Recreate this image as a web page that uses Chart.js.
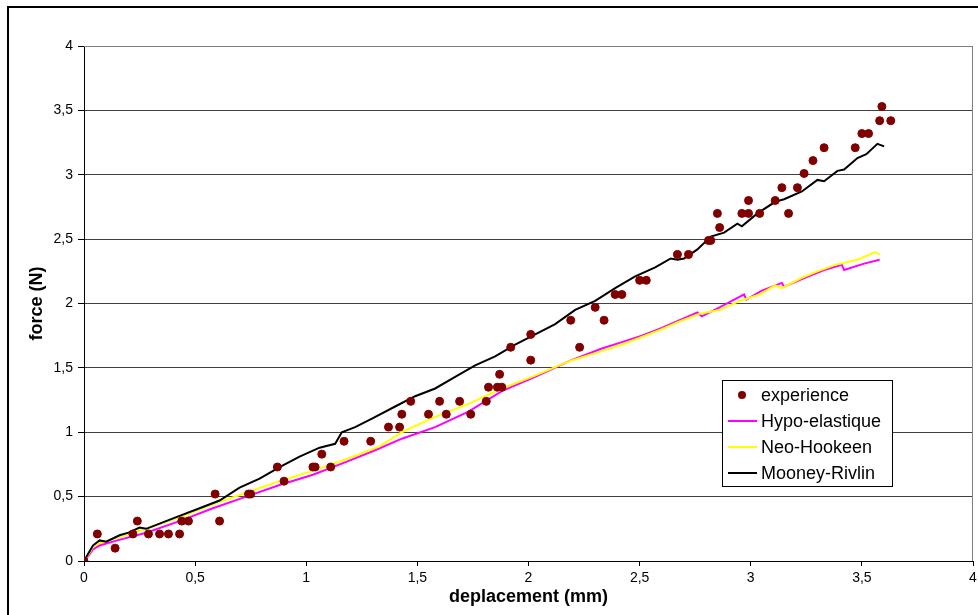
<!DOCTYPE html>
<html lang="fr">
  <head>
    <meta charset="UTF-8" />
    <title>force / deplacement</title>
    <script src="https://cdn.jsdelivr.net/npm/chart.js"></script>
    <style>
      * {
        margin: 0;
        padding: 0;
        box-sizing: border-box;
      }
      body {
        background: #ffffff;
        font-family: "Liberation Sans", Arial, sans-serif;
      }
      #wrap {
        width: 978px;
        height: 615px;
      }
    </style>
  </head>
  <body>
    <div id="wrap">
      <canvas id="forceChart" width="978" height="615"></canvas>
    </div>

    <script>
      // points de mesure (experience)
      var expX = [0, 0.06, 0.14, 0.22, 0.24, 0.29, 0.34, 0.38, 0.43, 0.44, 0.47, 0.59, 0.61, 0.74, 0.75, 0.87, 0.9, 1.03, 1.04, 1.07, 1.11, 1.17, 1.29, 1.37, 1.42, 1.43, 1.47, 1.55, 1.6, 1.63, 1.69, 1.74, 1.81, 1.82, 1.86, 1.87, 1.88, 1.92, 2.01, 2.01, 2.19, 2.23, 2.3, 2.34, 2.39, 2.42, 2.5, 2.53, 2.67, 2.72, 2.81, 2.82, 2.85, 2.86, 2.96, 2.99, 2.99, 3.04, 3.11, 3.14, 3.17, 3.21, 3.24, 3.28, 3.33, 3.47, 3.5, 3.53, 3.58, 3.59, 3.63];
      var expY = [0, 0.21, 0.1, 0.21, 0.31, 0.21, 0.21, 0.21, 0.21, 0.31, 0.31, 0.52, 0.31, 0.52, 0.52, 0.73, 0.62, 0.73, 0.73, 0.83, 0.73, 0.93, 0.93, 1.04, 1.04, 1.14, 1.24, 1.14, 1.24, 1.14, 1.24, 1.14, 1.24, 1.35, 1.35, 1.45, 1.35, 1.66, 1.76, 1.56, 1.87, 1.66, 1.97, 1.87, 2.07, 2.07, 2.18, 2.18, 2.38, 2.38, 2.49, 2.49, 2.7, 2.59, 2.7, 2.7, 2.8, 2.7, 2.8, 2.9, 2.7, 2.9, 3.01, 3.11, 3.21, 3.21, 3.32, 3.32, 3.42, 3.53, 3.42];

      // modele Hypo-elastique
      var hypoX = [0, 0.02, 0.04, 0.07, 0.15, 0.28, 0.43, 0.58, 0.73, 0.88, 1.03, 1.18, 1.31, 1.43, 1.58, 1.73, 1.88, 2.03, 2.18, 2.33, 2.42, 2.51, 2.6, 2.68, 2.76, 2.78, 2.86, 2.97, 2.98, 3.05, 3.14, 3.15, 3.23, 3.33, 3.41, 3.42, 3.51, 3.58];
      var hypoY = [0, 0.04, 0.09, 0.12, 0.16, 0.22, 0.31, 0.41, 0.5, 0.59, 0.67, 0.77, 0.86, 0.95, 1.04, 1.16, 1.32, 1.43, 1.55, 1.65, 1.7, 1.75, 1.81, 1.87, 1.93, 1.9, 1.97, 2.07, 2.03, 2.1, 2.16, 2.13, 2.19, 2.26, 2.3, 2.26, 2.31, 2.34];

      // modele Neo-Hookeen
      var neoX = [0, 0.02, 0.04, 0.07, 0.15, 0.28, 0.43, 0.58, 0.73, 0.88, 1.03, 1.18, 1.33, 1.43, 1.58, 1.73, 1.88, 2.03, 2.18, 2.33, 2.42, 2.51, 2.6, 2.68, 2.77, 2.86, 2.95, 3.04, 3.11, 3.14, 3.23, 3.3, 3.38, 3.48, 3.56, 3.58];
      var neoY = [0, 0.05, 0.11, 0.14, 0.18, 0.25, 0.34, 0.44, 0.53, 0.62, 0.7, 0.79, 0.89, 1.0, 1.12, 1.22, 1.34, 1.44, 1.55, 1.63, 1.68, 1.74, 1.8, 1.86, 1.92, 1.95, 2.02, 2.07, 2.14, 2.12, 2.2, 2.25, 2.3, 2.34, 2.4, 2.38];

      // modele Mooney-Rivlin
      var mooneyX = [0, 0.02, 0.04, 0.07, 0.1, 0.16, 0.2, 0.25, 0.28, 0.34, 0.43, 0.52, 0.61, 0.7, 0.79, 0.88, 0.97, 1.06, 1.13, 1.16, 1.22, 1.3, 1.4, 1.49, 1.58, 1.67, 1.76, 1.85, 1.94, 2.03, 2.12, 2.21, 2.3, 2.39, 2.48, 2.57, 2.64, 2.67, 2.7, 2.76, 2.82, 2.88, 2.94, 2.96, 3.03, 3.11, 3.15, 3.23, 3.3, 3.33, 3.39, 3.42, 3.48, 3.52, 3.57, 3.6];
      var mooneyY = [0, 0.06, 0.12, 0.16, 0.15, 0.2, 0.22, 0.26, 0.25, 0.29, 0.35, 0.41, 0.47, 0.57, 0.64, 0.73, 0.81, 0.88, 0.91, 1.0, 1.04, 1.11, 1.2, 1.28, 1.34, 1.43, 1.52, 1.59, 1.68, 1.76, 1.84, 1.95, 2.02, 2.12, 2.21, 2.28, 2.35, 2.34, 2.35, 2.42, 2.52, 2.55, 2.62, 2.6, 2.7, 2.79, 2.81, 2.87, 2.96, 2.95, 3.03, 3.04, 3.13, 3.16, 3.24, 3.22];

      var seriesNames = ["experience", "Hypo-elastique", "Neo-Hookeen", "Mooney-Rivlin"];
      var tickLabels = ["0", "0,5", "1", "1,5", "2", "2,5", "3", "3,5", "4"];

      function toPoints(xs, ys) {
        return xs.map(function (x, i) {
          return { x: x, y: ys[i] };
        });
      }

      var FONT = "'Liberation Sans', Arial, sans-serif";

      // cadre exterieur + bord gris de la zone de trace
      var framePlugin = {
        id: "frame",
        beforeDraw: function (chart) {
          var ctx = chart.ctx;
          ctx.save();
          ctx.fillStyle = "#ffffff";
          ctx.fillRect(0, 0, chart.width, chart.height);
          ctx.strokeStyle = "#000000";
          ctx.lineWidth = 2;
          ctx.strokeRect(8, 7, 990, 640);
          ctx.restore();
        },
        beforeDatasetsDraw: function (chart) {
          var a = chart.chartArea;
          var ctx = chart.ctx;
          ctx.save();
          ctx.strokeStyle = "#808080";
          ctx.lineWidth = 1;
          ctx.beginPath();
          ctx.moveTo(a.left, a.top + 0.5);
          ctx.lineTo(a.right - 0.5, a.top + 0.5);
          ctx.lineTo(a.right - 0.5, a.bottom);
          ctx.stroke();
          ctx.restore();
        },
      };

      // legende dans la zone de trace
      var legendBoxPlugin = {
        id: "legendBox",
        afterDraw: function (chart) {
          var ctx = chart.ctx;
          var x0 = 722.5, y0 = 380.5, w = 170, h = 106;
          ctx.save();
          ctx.fillStyle = "#ffffff";
          ctx.fillRect(x0, y0, w, h);
          ctx.strokeStyle = "#000000";
          ctx.lineWidth = 1;
          ctx.strokeRect(x0, y0, w, h);
          ctx.font = "18px " + FONT;
          ctx.textBaseline = "middle";
          ctx.fillStyle = "#000000";
          var rows = [395, 421, 447, 473];
          chart.data.datasets.forEach(function (ds, i) {
            var y = rows[i];
            if (ds.showLine === false) {
              ctx.beginPath();
              ctx.fillStyle = ds.pointBackgroundColor;
              ctx.arc(742, y, 4, 0, Math.PI * 2);
              ctx.fill();
            } else {
              ctx.beginPath();
              ctx.strokeStyle = ds.borderColor;
              ctx.lineWidth = 2;
              ctx.moveTo(728, y);
              ctx.lineTo(757, y);
              ctx.stroke();
            }
            ctx.fillStyle = "#000000";
            ctx.fillText(ds.label, 761, y + 1);
          });
          ctx.restore();
        },
      };

      var ctx = document.getElementById("forceChart").getContext("2d");
      new Chart(ctx, {
        type: "scatter",
        data: {
          datasets: [
            {
              label: seriesNames[0],
              data: toPoints(expX, expY),
              showLine: false,
              pointRadius: 4,
              pointBackgroundColor: "#800000",
              pointBorderColor: "#800000",
              borderColor: "#800000",
              order: 0,
            },
            {
              label: seriesNames[1],
              data: toPoints(hypoX, hypoY),
              showLine: true,
              borderColor: "#ff00ff",
              borderWidth: 2,
              pointRadius: 0,
              tension: 0,
              order: 3,
            },
            {
              label: seriesNames[2],
              data: toPoints(neoX, neoY),
              showLine: true,
              borderColor: "#ffff00",
              borderWidth: 2,
              pointRadius: 0,
              tension: 0,
              order: 2,
            },
            {
              label: seriesNames[3],
              data: toPoints(mooneyX, mooneyY),
              showLine: true,
              borderColor: "#000000",
              borderWidth: 2,
              pointRadius: 0,
              tension: 0,
              order: 1,
            },
          ],
        },
        options: {
          responsive: false,
          animation: false,
          layout: {
            padding: { top: 46, right: 5, left: 0, bottom: 0 },
          },
          plugins: {
            legend: { display: false },
            tooltip: { enabled: false },
          },
          scales: {
            x: {
              type: "linear",
              min: 0,
              max: 4,
              afterFit: function (scale) {
                scale.height = 54;
                scale.paddingLeft = 0;
                scale.paddingRight = 0;
              },
              ticks: {
                stepSize: 0.5,
                padding: 4,
                color: "#000000",
                font: { family: FONT, size: 14 },
                callback: function (value) {
                  return tickLabels[Math.round(value * 2)];
                },
              },
              grid: {
                drawOnChartArea: false,
                drawTicks: true,
                tickLength: 5,
                color: "#000000",
              },
              border: { color: "#000000", width: 1 },
              title: {
                display: true,
                text: "deplacement (mm)",
                color: "#000000",
                font: { family: FONT, size: 18, weight: "bold" },
                padding: { top: 0, bottom: 7 },
              },
            },
            y: {
              min: 0,
              max: 4,
              afterFit: function (scale) {
                scale.width = 84;
              },
              ticks: {
                stepSize: 0.5,
                padding: 5,
                color: "#000000",
                font: { family: FONT, size: 14 },
                callback: function (value) {
                  return tickLabels[Math.round(value * 2)];
                },
              },
              grid: {
                color: "#404040",
                tickColor: "#000000",
                tickLength: 6,
              },
              border: { color: "#000000", width: 1 },
              title: {
                display: true,
                text: "force (N)",
                color: "#000000",
                font: { family: FONT, size: 18, weight: "bold" },
                padding: { top: 26, bottom: 0 },
              },
            },
          },
        },
        plugins: [framePlugin, legendBoxPlugin],
      });
    </script>
  </body>
</html>
